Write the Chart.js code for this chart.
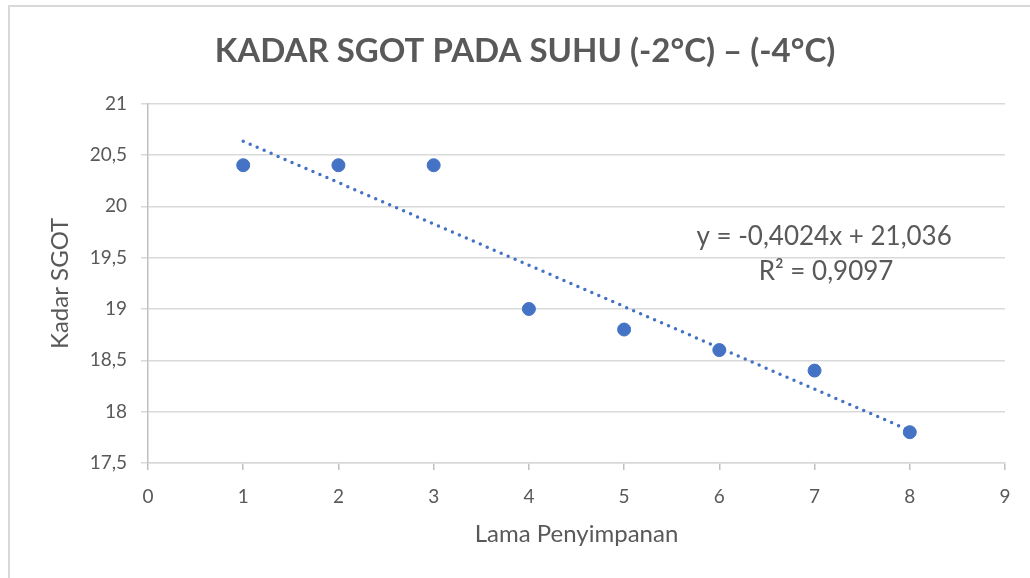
<!DOCTYPE html>
<html lang="id">
<head>
    <meta charset="UTF-8">
    <title>Kadar SGOT</title>
    <script src="https://cdn.jsdelivr.net/npm/chart.js"></script>
    <style>
        body { margin: 0; background: #fff; }
        #wrap { position: relative; width: 1030px; height: 578px; }
    </style>
</head>
<body>
    <div id="wrap"><canvas id="sgotChart"></canvas></div>

    <script>
        // data
        const lamaPenyimpanan = [1, 2, 3, 4, 5, 6, 7, 8];
        const kadarSgot = [20.4, 20.4, 20.4, 19.0, 18.8, 18.6, 18.4, 17.8];
        const trendLabel = ['y = -0,4024x + 21,036', 'R\u00b2 = 0,9097'];

        const blue = '#4472C4';
        const textGrey = '#595959';
        const fontFam = 'Lato, "Open Sans", sans-serif';

        // linear trendline (least squares) from the points
        function linReg(xs, ys) {
            const n = xs.length;
            const mx = xs.reduce((a, b) => a + b, 0) / n;
            const my = ys.reduce((a, b) => a + b, 0) / n;
            let sxy = 0, sxx = 0;
            xs.forEach((x, i) => { sxy += (x - mx) * (ys[i] - my); sxx += (x - mx) * (x - mx); });
            const slope = sxy / sxx;
            return { slope, intercept: my - slope * mx };
        }
        const fit = linReg(lamaPenyimpanan, kadarSgot);
        const xFirst = lamaPenyimpanan[0], xLast = lamaPenyimpanan[lamaPenyimpanan.length - 1];
        const trendPoints = [
            { x: xFirst, y: fit.intercept + fit.slope * xFirst },
            { x: xLast, y: fit.intercept + fit.slope * xLast }
        ];

        const fmt = v => String(v).replace('.', ',');

        // outer frame + trendline equation
        const extras = {
            id: 'extras',
            beforeDraw(chart) {
                const ctx = chart.ctx;
                ctx.save();
                ctx.strokeStyle = '#d9d9d9';
                ctx.lineWidth = 2;
                ctx.beginPath();
                ctx.moveTo(9, 600);
                ctx.lineTo(9, 6);
                ctx.lineTo(1040, 6);
                ctx.stroke();
                ctx.restore();
            },
            afterDatasetsDraw(chart) {
                const ctx = chart.ctx;
                const xs = chart.scales.x, ys = chart.scales.y;
                const cx = xs.getPixelForValue(7.1);
                const cy = ys.getPixelForValue(19.7);
                ctx.save();
                ctx.fillStyle = textGrey;
                ctx.font = '26px ' + fontFam;
                ctx.textAlign = 'center';
                ctx.textBaseline = 'middle';
                ctx.fillText(trendLabel[0], cx, cy);
                ctx.fillText(trendLabel[1], cx + 2, cy + 35);
                ctx.restore();
            }
        };

        new Chart(document.getElementById('sgotChart'), {
            type: 'scatter',
            data: {
                datasets: [{
                    label: 'Kadar SGOT',
                    data: lamaPenyimpanan.map((x, i) => ({ x, y: kadarSgot[i] })),
                    backgroundColor: blue,
                    borderColor: blue,
                    pointRadius: 6.5,
                    pointHoverRadius: 6.5
                }, {
                    label: 'Linear',
                    type: 'line',
                    data: trendPoints,
                    borderColor: blue,
                    borderWidth: 3.5,
                    borderDash: [0, 7.6],
                    borderCapStyle: 'round',
                    pointRadius: 0,
                    fill: false
                }]
            },
            options: {
                responsive: true,
                maintainAspectRatio: false,
                animation: false,
                layout: { padding: { left: 45, right: 25, top: 0, bottom: 0 } },
                plugins: {
                    legend: { display: false },
                    tooltip: { enabled: false },
                    title: {
                        display: true,
                        text: 'KADAR SGOT PADA SUHU (-2\u00b0C) \u2013 (-4\u00b0C)',
                        color: textGrey,
                        font: { family: fontFam, size: 33, weight: 'bold' },
                        padding: { top: 32, bottom: 32 }
                    }
                },
                scales: {
                    x: {
                        type: 'linear',
                        min: 0,
                        max: 9,
                        ticks: {
                            stepSize: 1,
                            color: textGrey,
                            padding: 15,
                            font: { family: fontFam, size: 19 }
                        },
                        grid: {
                            drawOnChartArea: false,
                            drawTicks: true,
                            tickLength: 7,
                            color: '#bfbfbf',
                            lineWidth: 1.5
                        },
                        border: { display: true, color: '#d9d9d9', width: 1.5 },
                        title: {
                            display: true,
                            text: 'Lama Penyimpanan',
                            color: textGrey,
                            font: { family: fontFam, size: 24 },
                            padding: { top: 0, bottom: 29 }
                        },
                        afterFit(scale) { scale.height = 115; }
                    },
                    y: {
                        min: 17.5,
                        max: 21,
                        ticks: {
                            stepSize: 0.5,
                            color: textGrey,
                            padding: 14,
                            font: { family: fontFam, size: 19 },
                            callback: v => fmt(v)
                        },
                        grid: {
                            color: '#d9d9d9',
                            lineWidth: 1.5,
                            drawTicks: true,
                            tickLength: 7
                        },
                        border: { display: true, color: '#bfbfbf', width: 1.5 },
                        title: {
                            display: true,
                            text: 'Kadar SGOT',
                            color: textGrey,
                            font: { family: fontFam, size: 24 },
                            padding: { top: 1, bottom: 0 }
                        },
                        afterFit(scale) { scale.height; scale.width = 103; }
                    }
                }
            },
            plugins: [extras]
        });
    </script>
</body>
</html>
